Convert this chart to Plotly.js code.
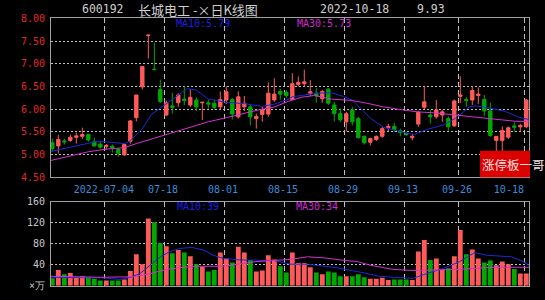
<!DOCTYPE html>
<html><head><meta charset="utf-8">
<script src="https://cdn.plot.ly/plotly-3.0.1.min.js"></script>
<style>html,body{margin:0;padding:0;background:#000;}#chart{width:545px;height:300px;}</style>
</head><body><div id="chart"></div>
<script>
// ---- daily K-line data (index 0 .. 79) ----
const openP  = [5.26,5.19,5.30,5.31,5.38,5.40,5.44,5.28,5.23,5.18, 5.18,5.12,4.99,5.29,5.81,6.49,7.62,6.88,6.43,5.87,
                6.07,6.14,6.22,6.09,6.20,6.14,6.14,6.13,6.05,6.20, 6.21,5.83,6.05,6.05,5.79,5.88,5.89,6.20,6.39,6.37,
                6.21,6.54,6.56,6.35,6.35,6.23,6.44,6.09,5.90,5.72, 5.98,5.79,5.40,5.27,5.33,5.40,5.59,5.62,5.52,5.46,
                5.37,5.67,6.04,5.87,5.83,5.87,5.79,5.63,6.28,6.21, 6.20,6.30,6.21,5.96,5.31,5.31,5.38,5.63,5.61,5.61];
const highP  = [5.35,5.43,5.35,5.44,5.48,5.59,5.45,5.37,5.28,5.23, 5.22,5.13,5.24,5.76,6.31,6.94,7.63,7.46,6.65,6.19,
                6.36,6.35,6.50,6.44,6.26,6.15,6.21,6.21,6.39,6.50, 6.24,6.39,6.29,6.09,5.90,6.05,6.59,6.68,6.44,6.41,
                6.79,6.72,6.87,6.64,6.46,6.42,6.46,6.16,6.01,5.94, 6.05,5.83,5.42,5.37,5.42,5.61,5.68,5.70,5.57,5.48,
                5.45,5.96,6.51,5.98,6.20,5.98,5.84,6.21,6.72,6.26, 6.51,6.48,6.31,6.14,5.40,5.62,5.62,5.71,5.68,6.22];
const lowP   = [5.06,5.02,5.22,5.28,5.24,5.34,5.28,5.17,5.13,5.11, 5.04,4.95,4.97,5.24,5.73,6.43,7.11,6.87,6.14,5.85,
                5.90,6.05,6.09,6.05,5.96,5.76,6.01,5.99,5.99,6.11, 5.77,5.79,5.96,5.64,5.57,5.72,5.83,6.16,6.21,6.24,
                6.20,6.50,6.50,6.29,6.14,6.14,6.09,5.73,5.72,5.51, 5.64,5.35,5.22,5.20,5.30,5.37,5.51,5.50,5.40,5.41,
                5.31,5.61,6.00,5.68,5.79,5.72,5.51,5.61,6.13,6.05, 6.09,6.11,5.84,5.39,5.06,5.06,5.34,5.50,5.50,5.58];
const closeP = [5.13,5.33,5.28,5.38,5.41,5.44,5.32,5.19,5.16,5.20, 5.15,5.03,5.22,5.74,6.31,6.94,7.63,6.87,6.17,6.14,
                6.04,6.31,6.19,6.26,6.05,6.15,6.11,6.04,6.21,6.38, 5.89,6.27,6.13,5.83,5.84,5.98,6.35,6.33,6.33,6.30,
                6.56,6.59,6.60,6.38,6.29,6.39,6.13,5.90,5.77,5.90, 5.72,5.37,5.26,5.35,5.40,5.57,5.62,5.55,5.49,5.44,
                5.40,5.93,6.16,5.83,5.98,5.94,5.61,6.18,6.31,6.19, 6.41,6.33,5.96,5.42,5.40,5.53,5.59,5.60,5.64,6.20];
const volume = [14,30,22,24,16,18,16,13,10,10, 10,10,12,28,60,41,128,121,81,75,
                62,68,63,56,41,36,27,30,63,52, 44,74,63,49,27,29,58,50,37,25,
                63,43,43,35,25,22,27,25,18,18, 18,22,16,13,13,15,11,12,12,12,
                11,65,87,49,52,31,33,56,106,60, 69,52,44,48,39,46,41,32,23,23];

// ---- moving-average lines (position index, value) ----
const ma10K = [-0.2,2,5,7.5,9,10.5,12,13,15,16.5,18.5,20,21,22.5,24,26,29,32,35,37,39,40,42,44,46.5,48.5,50,51.3,53,55.2,57.2,59.5,60.3,62.4,65.2,67.5,69.5,70.6,72.5,75.5,77.5,79.45];
const ma10V = [5.07,5.13,5.22,5.29,5.28,5.26,5.24,5.30,5.57,5.88,6.07,6.22,6.32,6.45,6.42,6.22,6.15,6.12,6.06,6.11,6.20,6.27,6.31,6.35,6.36,6.28,6.20,6.03,5.80,5.60,5.53,5.46,5.44,5.55,5.65,5.82,6.05,6.07,6.03,5.95,5.83,5.77];
const ma30K = [-0.2,3,6,9,12,14,17,20,23,26,29,31.6,34.3,37.1,39.3,41.5,43.7,46.5,50,52.4,55.2,58,60.8,63.5,66.3,69,71.8,74.5,77.3,79.45];
const ma30V = [4.87,4.97,5.06,5.12,5.15,5.24,5.36,5.48,5.60,5.72,5.81,5.90,5.98,6.05,6.17,6.26,6.30,6.22,6.19,6.13,6.05,5.99,5.94,5.92,5.88,5.84,5.81,5.76,5.73,5.73];
const vMa10K = [-0.2,8,11.3,13,14.6,16.3,18,19.6,21.3,23.2,25.2,26.8,28.5,31.3,34.1,36.9,39.7,42.5,45.3,48,50.8,53,54.5,56.8,60.1,62.4,65.2,67.9,70.4,72.4,74.6,76.5,78.5,79.45];
const vMa10V = [16,15,12,16,23,39,55,65,71,73,68,58,52,49,48,48,41,41,37,33,27,21,18,16,14,23,33,46,63,58,57,55,46,39];
const vMa30K = [-0.2,8,13.5,16.3,19,21.8,24.6,28.5,34.1,36.9,39.7,42.5,45.3,48,50.8,53,56.8,60.1,65.2,67.9,73.4,79.45];
const vMa30V = [18,16,17,23,31,35,37,37,46,48,50,55,53,49,46,39,31,29,30,31,35,35];

// ---- axis ticks and texts ----
const gridK = [8.73,18.73,28.67,38.67,48.67,58.67,67.78,78.78];
const labelK = [8.6,18.45,28.45,38.45,48.45,58.45,67.45,76.1];
const dateLabels = ['2022-07-04','07-18','08-01','08-15','08-29','09-13','09-26','10-18'];
const priceTicks = [4.5,5.0,5.5,6.0,6.5,7.0,7.5,8.0];
const volTicks = [0,40,80,120,160];
const volTickText = ['×万','40','80','120','160'];
const titleCode = '600192', titleName = '长城电工 -×日K线图', titleDate = '2022-10-18', titleChg = '9.93';
const maTop10 = 'MA10:5.79', maTop30 = 'MA30:5.73', maVol10 = 'MA10:39', maVol30 = 'MA30:34';
const stampText = '涨停板一哥';

const idx = openP.map((_, i) => i);
const RED = '#ff5a5a', GREEN = '#00a800', BLUE = '#1e28d8', MAG = '#d232d2';
const volColors = closeP.map((c, i) => c >= openP[i] ? RED : GREEN);
const XR = [-0.22, 79.45];
const MONO = 'DejaVu Sans Mono, Liberation Mono, monospace';

const traces = [
  {type:'candlestick', x:idx, open:openP, high:highP, low:lowP, close:closeP, xaxis:'x', yaxis:'y',
   increasing:{line:{color:RED,width:1}, fillcolor:RED}, decreasing:{line:{color:GREEN,width:1}, fillcolor:GREEN},
   whiskerwidth:0, hoverinfo:'skip'},
  {type:'scatter', mode:'lines', x:ma10K, y:ma10V, xaxis:'x', yaxis:'y', line:{color:BLUE,width:1}, hoverinfo:'skip'},
  {type:'scatter', mode:'lines', x:ma30K, y:ma30V, xaxis:'x', yaxis:'y', line:{color:MAG,width:1}, hoverinfo:'skip'},
  {type:'bar', x:idx, y:volume, xaxis:'x2', yaxis:'y2', width:0.8, marker:{color:volColors, line:{width:0}}, hoverinfo:'skip'},
  {type:'scatter', mode:'lines', x:vMa10K, y:vMa10V, xaxis:'x2', yaxis:'y2', line:{color:BLUE,width:1}, hoverinfo:'skip'},
  {type:'scatter', mode:'lines', x:vMa30K, y:vMa30V, xaxis:'x2', yaxis:'y2', line:{color:MAG,width:1}, hoverinfo:'skip'},
  {type:'scatter', mode:'lines', x:labelK, y:labelK.map(() => null), xaxis:'x3', yaxis:'y', hoverinfo:'skip'}
];

const gridX = {range:XR, tickvals:gridK, showticklabels:false, ticks:'', showgrid:true, gridcolor:'#c0c0c0',
  griddash:'5px,3px', gridwidth:1, showline:true, linecolor:'#a0a0a0', linewidth:1, mirror:true, zeroline:false, fixedrange:true};
const px = v => (v - 51) / 478;
const py = v => 1 - v / 300;
const ann = (text, x, y, color, size, family) => ({text, x:px(x), y:py(y), xref:'paper', yref:'paper',
  xanchor:'left', yanchor:'middle', showarrow:false, font:{color, size, family}});

const layout = {
  width:545, height:300, paper_bgcolor:'#000', plot_bgcolor:'#000',
  margin:{l:51, r:16, t:0, b:0}, showlegend:false, boxgap:0.2,
  xaxis:Object.assign({domain:[0,1], anchor:'y', rangeslider:{visible:false}}, gridX),
  xaxis2:Object.assign({domain:[0,1], anchor:'y2'}, gridX),
  xaxis3:{overlaying:'x', anchor:'y', side:'bottom', range:XR, tickvals:labelK, ticktext:dateLabels, showgrid:false,
    showline:false, zeroline:false, ticks:'outside', ticklen:3, tickcolor:'rgba(0,0,0,0)',
    tickfont:{family:MONO, size:10, color:'#3c8cdc'}, fixedrange:true},
  yaxis:{domain:[0.4093,0.939], range:[4.5,8], tickvals:priceTicks, tickformat:'.2f',
    tickfont:{family:MONO, size:10, color:'#e02828'}, showgrid:true, gridcolor:'#c0c0c0', griddash:'2px,2px', gridwidth:1,
    showline:true, linecolor:'#a0a0a0', mirror:true, zeroline:false, ticks:'outside', ticklen:3, tickcolor:'rgba(0,0,0,0)', fixedrange:true},
  yaxis2:{domain:[0.0477,0.3277], range:[0,160], tickvals:volTicks, ticktext:volTickText,
    tickfont:{family:MONO, size:10, color:'#c8c8c8'}, showgrid:true, gridcolor:'#c0c0c0', griddash:'2px,2px', gridwidth:1,
    showline:true, linecolor:'#a0a0a0', mirror:true, zeroline:false, ticks:'outside', ticklen:3, tickcolor:'rgba(0,0,0,0)', fixedrange:true},
  shapes:[{type:'rect', xref:'paper', yref:'paper', x0:px(480), x1:px(530), y0:py(177.3), y1:py(150.7),
    fillcolor:'#dd0000', line:{width:0}, layer:'above'}],
  annotations:[
    ann(titleCode, 80, 9, '#cfcfcf', 11.5, MONO),
    ann(titleName, 136, 9, '#cfcfcf', 13, 'Noto Sans CJK SC, ' + MONO),
    ann(titleDate, 318, 9, '#cfcfcf', 11.5, MONO),
    ann(titleChg, 415, 9, '#cfcfcf', 11.5, MONO),
    ann(maTop10, 174, 24, '#1e1ee0', 10, MONO),
    ann(maTop30, 295, 24, '#d028d0', 10, MONO),
    ann(maVol10, 175, 206, '#1e1ee0', 10, MONO),
    ann(maVol30, 294, 206, '#d028d0', 10, MONO),
    ann(stampText, 480, 164, '#f5e0e0', 12.5, 'Noto Sans CJK SC')
  ]
};
Plotly.newPlot('chart', traces, layout, {displayModeBar:false, staticPlot:true});
</script></body></html>
